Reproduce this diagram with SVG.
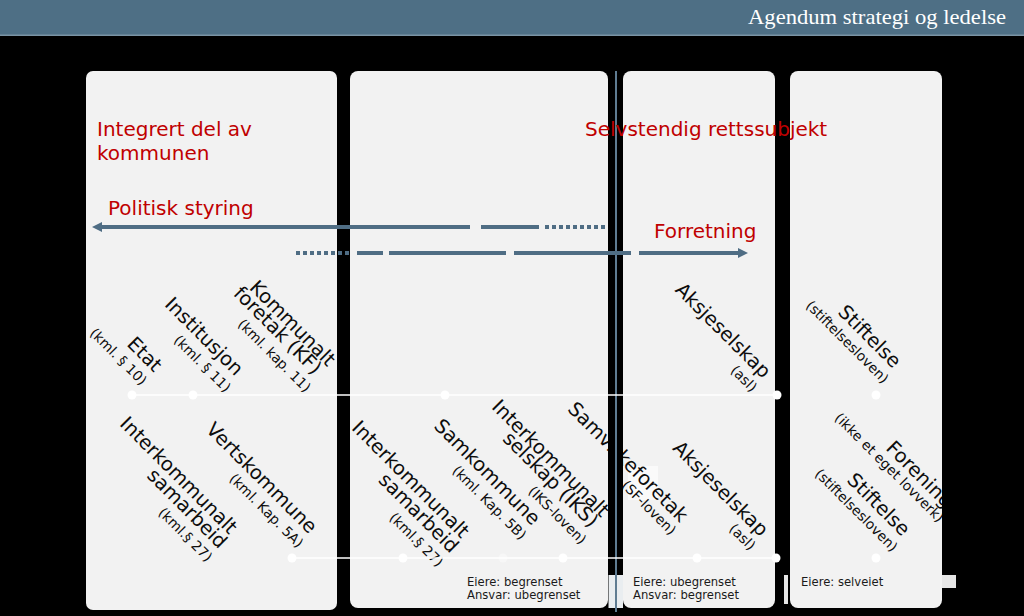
<svg xmlns="http://www.w3.org/2000/svg" width="1024" height="616" viewBox="0 0 1024 616">
<defs>
<style>
.panel{fill:#f2f2f2}
.m{font-family:"DejaVu Sans","Noto Sans",sans-serif;font-size:19.5px;fill:#0d0d0d;text-anchor:middle}
.s{font-family:"DejaVu Sans","Noto Sans",sans-serif;font-size:13.8px;fill:#0d0d0d;text-anchor:middle}
.red{font-family:"DejaVu Sans","Noto Sans",sans-serif;font-size:20px;fill:#c00000}
.foot{font-family:"DejaVu Sans","Noto Sans",sans-serif;font-size:11.6px;fill:#1a1a1a}
.arr{stroke:#4f6d84;stroke-width:4;fill:none}
.dot{stroke-dasharray:4 3}
.wl{stroke:#ffffff;stroke-width:1.5}
.wd{fill:#ffffff}
</style>
<marker id="ah" viewBox="0 0 10 10" refX="0" refY="5" markerUnits="userSpaceOnUse" markerWidth="10" markerHeight="11" orient="auto">
<path d="M0,0 L10,5 L0,10 z" fill="#4f6d84"/>
</marker>
</defs>
<rect x="0" y="0" width="1024" height="616" fill="#000000"/>
<g id="header">
<rect x="0" y="0" width="1024" height="36" fill="#4e6f85"/>
<rect x="0" y="34.5" width="1024" height="1.5" fill="#7a93a4"/>
<text x="748" y="24" font-family="'Liberation Serif',serif" font-size="22" fill="#ffffff" textLength="258" lengthAdjust="spacingAndGlyphs">Agendum strategi og ledelse</text>
</g>
<g id="panels">
<rect class="panel" x="86" y="71" width="251" height="539" rx="7"/>
<rect class="panel" x="350" y="71" width="258" height="537" rx="8"/>
<rect class="panel" x="623" y="71" width="152" height="537" rx="8"/>
<rect class="panel" x="790" y="71" width="152" height="537" rx="8"/>
<rect x="628" y="466" width="30" height="34" fill="#fafafa"/>
</g>
<g id="etat"><text class="m" transform="translate(140,359) rotate(45)">Etat</text><text class="s" transform="translate(115,360) rotate(45)">(kml. § 10)</text></g>
<g id="institusjon"><text class="m" transform="translate(199.5,341) rotate(45)">Institusjon</text><text class="s" transform="translate(199,367) rotate(45)">(kml. § 11)</text></g>
<g id="kf"><text class="m" transform="translate(288,328) rotate(45)">Kommunalt</text><text class="m" transform="translate(273,335) rotate(45)">foretak (KF)</text><text class="s" transform="translate(271,359) rotate(45)">(kml. kap. 11)</text></g>
<g id="iks-samarbeid-1"><text class="m" transform="translate(174,480) rotate(45)">Interkommunalt</text><text class="m" transform="translate(182.6,513) rotate(45)">samarbeid</text><text class="s" transform="translate(182,538) rotate(45)">(kml.§ 27)</text></g>
<g id="vertskommune"><text class="m" transform="translate(257,482.5) rotate(45)">Vertskommune</text><text class="s" transform="translate(263,514) rotate(45)">(kml. Kap. 5A)</text></g>
<g id="iks-samarbeid-2"><text class="m" transform="translate(406,484) rotate(45)">Interkommunalt</text><text class="m" transform="translate(414,517.5) rotate(45)">samarbeid</text><text class="s" transform="translate(413,543) rotate(45)">(kml.§ 27)</text></g>
<g id="samkommune"><text class="m" transform="translate(482.6,476.6) rotate(45)">Samkommune</text><text class="s" transform="translate(486,506) rotate(45)">(kml. Kap. 5B)</text></g>
<g id="iks"><text class="m" transform="translate(546,463) rotate(45)">Interkommunalt</text><text class="m" transform="translate(546,484) rotate(45)">selskap (IKS)</text><text class="s" transform="translate(554,518.5) rotate(45)">(IKS-loven)</text></g>
<g id="samvirkeforetak"><text class="m" transform="translate(623.4,466.6) rotate(45)">Samvirkeforetak</text><text class="s" transform="translate(645.5,511) rotate(45)">(SF-loven)</text></g>
<g id="aksjeselskap-1"><text class="m" transform="translate(718.4,335) rotate(45)">Aksjeselskap</text><text class="s" transform="translate(740.5,382) rotate(45)">(asl)</text></g>
<g id="aksjeselskap-2"><text class="m" transform="translate(716,493.3) rotate(45)">Aksjeselskap</text><text class="s" transform="translate(739,540.3) rotate(45)">(asl)</text></g>
<g id="stiftelse-1"><text class="m" transform="translate(865,341) rotate(45)">Stiftelse</text><text class="s" transform="translate(844,345.3) rotate(45)">(stiftelsesloven)</text></g>
<g id="forening"><text class="m" transform="translate(915,479) rotate(45)">Forening</text><text class="s" transform="translate(886,471) rotate(45)">(ikke et eget lovverk)</text></g>
<g id="stiftelse-2"><text class="m" transform="translate(874,509) rotate(45)">Stiftelse</text><text class="s" transform="translate(853,513.6) rotate(45)">(stiftelsesloven)</text></g>
<g id="masks">
<rect x="608" y="71" width="15" height="504" fill="#000000"/>
<rect x="942" y="36" width="82" height="580" fill="#000000"/>
<rect x="608.5" y="575" width="14.5" height="33" fill="#e9edf0"/>
<rect x="784" y="575" width="4" height="29" fill="#e6e6e6"/>
<rect x="942" y="575" width="14" height="13" fill="#e6e6e6"/>
</g>
<g id="connectors">
<line x1="616" y1="71" x2="616" y2="612" stroke="#5f7c92" stroke-width="2"/>
<line class="wl" x1="132" y1="395" x2="777" y2="395"/>
<line class="wl" x1="292" y1="558" x2="776" y2="558"/>
<circle class="wd" cx="132" cy="395" r="4.5"/>
<circle class="wd" cx="193" cy="395" r="4.5"/>
<circle class="wd" cx="445" cy="395" r="4.5"/>
<circle class="wd" cx="777" cy="395" r="4.5"/>
<circle class="wd" cx="876" cy="395" r="4.5"/>
<circle class="wd" cx="292" cy="558" r="4.5"/>
<circle class="wd" cx="403" cy="558" r="4.5"/>
<circle class="wd" cx="503" cy="558" r="4.5" opacity="0.4"/>
<circle class="wd" cx="563" cy="558" r="4.5"/>
<circle class="wd" cx="697" cy="558" r="4.5"/>
<circle class="wd" cx="776" cy="558" r="4.5"/>
<circle class="wd" cx="876" cy="558" r="4.5"/>
<line class="arr" x1="470" y1="227" x2="102" y2="227" marker-end="url(#ah)"/>
<line class="arr" x1="481" y1="227" x2="539" y2="227"/>
<line class="arr dot" x1="545" y1="227" x2="607" y2="227"/>
<line class="arr dot" x1="296" y1="253" x2="350" y2="253"/>
<line class="arr" x1="357" y1="253" x2="383" y2="253"/>
<line class="arr" x1="389" y1="253" x2="506" y2="253"/>
<line class="arr" x1="514" y1="253" x2="631" y2="253"/>
<line class="arr" x1="639" y1="253" x2="738" y2="253" marker-end="url(#ah)"/>
</g>
<g id="labels">
<text class="red" x="97" y="136">Integrert del av</text>
<text class="red" x="97" y="160">kommunen</text>
<text class="red" x="585" y="136">Selvstendig rettssubjekt</text>
<text class="red" x="108" y="215">Politisk styring</text>
<text class="red" x="654" y="238">Forretning</text>
</g>
<g id="footnotes">
<text class="foot" x="467" y="586">Eiere: begrenset</text>
<text class="foot" x="467" y="599">Ansvar: ubegrenset</text>
<text class="foot" x="633" y="586">Eiere: ubegrenset</text>
<text class="foot" x="633" y="599">Ansvar: begrenset</text>
<text class="foot" x="801" y="586">Eiere: selveiet</text>
</g>
</svg>
